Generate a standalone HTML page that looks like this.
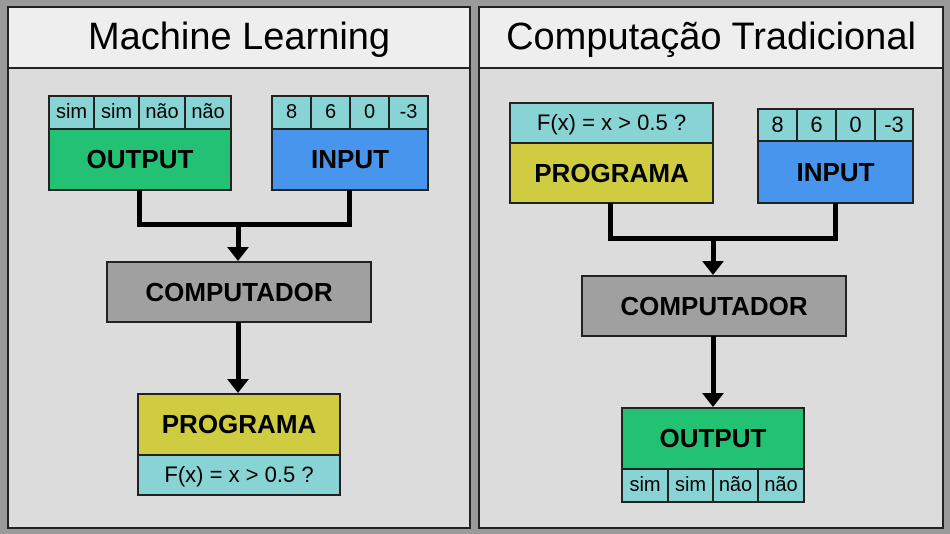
<!DOCTYPE html><html><head><style>
body{margin:0;width:950px;height:534px;background:#9a9a9a;position:relative;overflow:hidden;font-family:"Liberation Sans",sans-serif}
.a{position:absolute;box-sizing:border-box;border:2px solid #222;display:flex;align-items:center;justify-content:center}
.p{background:#dcdcdc}
.h{background:#eeeeee;font-size:38px;color:#000;border-width:2px}
.c{background:#88d3d3;font-size:20px}
.g{background:#22c173;font-weight:bold;font-size:26px}
.b{background:#4795ec;font-weight:bold;font-size:26px}
.y{background:#cfcc42;font-weight:bold;font-size:26px}
.k{background:#a0a0a0;font-weight:bold;font-size:26px}
.l{position:absolute;background:#000}
.t{position:absolute;width:0;height:0;border-left:11px solid transparent;border-right:11px solid transparent;border-top:14px solid #000}
</style></head><body>
<div class="a p" style="left:7px;top:6px;width:464px;height:523px"></div>
<div class="a h" style="left:7px;top:6px;width:464px;height:63px">Machine Learning</div>
<div class="a p" style="left:478px;top:6px;width:466px;height:523px"></div>
<div class="a h" style="left:478px;top:6px;width:466px;height:63px">Computação Tradicional</div>

<div class="a c" style="left:48px;top:95px;width:47px;height:35px">sim</div>
<div class="a c" style="left:93px;top:95px;width:47px;height:35px">sim</div>
<div class="a c" style="left:138px;top:95px;width:48px;height:35px">não</div>
<div class="a c" style="left:184px;top:95px;width:48px;height:35px">não</div>
<div class="a g" style="left:48px;top:128px;width:184px;height:63px">OUTPUT</div>
<div class="a c" style="left:271px;top:95px;width:41px;height:35px">8</div>
<div class="a c" style="left:310px;top:95px;width:41px;height:35px">6</div>
<div class="a c" style="left:349px;top:95px;width:41px;height:35px">0</div>
<div class="a c" style="left:388px;top:95px;width:41px;height:35px">-3</div>
<div class="a b" style="left:271px;top:128px;width:158px;height:63px">INPUT</div>
<div class="l" style="left:137px;top:190px;width:5px;height:37px"></div>
<div class="l" style="left:347px;top:190px;width:5px;height:37px"></div>
<div class="l" style="left:137px;top:222px;width:215px;height:5px"></div>
<div class="l" style="left:236px;top:222px;width:5px;height:28px"></div>
<div class="t" style="left:227px;top:247px"></div>
<div class="a k" style="left:106px;top:261px;width:266px;height:62px">COMPUTADOR</div>
<div class="l" style="left:236px;top:322px;width:5px;height:58px"></div>
<div class="t" style="left:227px;top:379px"></div>
<div class="a y" style="left:137px;top:393px;width:204px;height:63px">PROGRAMA</div>
<div class="a c" style="left:137px;top:454px;width:204px;height:42px;font-size:22px">F(x) = x &gt; 0.5 ?</div>

<div class="a c" style="left:509px;top:102px;width:205px;height:42px;font-size:22px">F(x) = x &gt; 0.5 ?</div>
<div class="a y" style="left:509px;top:142px;width:205px;height:62px">PROGRAMA</div>
<div class="a c" style="left:757px;top:108px;width:41px;height:34px;font-size:22px">8</div>
<div class="a c" style="left:796px;top:108px;width:41px;height:34px;font-size:22px">6</div>
<div class="a c" style="left:835px;top:108px;width:41px;height:34px;font-size:22px">0</div>
<div class="a c" style="left:874px;top:108px;width:40px;height:34px;font-size:22px">-3</div>
<div class="a b" style="left:757px;top:140px;width:157px;height:64px">INPUT</div>
<div class="l" style="left:608px;top:203px;width:5px;height:38px"></div>
<div class="l" style="left:833px;top:203px;width:5px;height:38px"></div>
<div class="l" style="left:608px;top:236px;width:230px;height:5px"></div>
<div class="l" style="left:711px;top:236px;width:5px;height:27px"></div>
<div class="t" style="left:702px;top:261px"></div>
<div class="a k" style="left:581px;top:275px;width:266px;height:62px">COMPUTADOR</div>
<div class="l" style="left:711px;top:336px;width:5px;height:58px"></div>
<div class="t" style="left:702px;top:393px"></div>
<div class="a g" style="left:621px;top:407px;width:184px;height:63px">OUTPUT</div>
<div class="a c" style="left:621px;top:468px;width:48px;height:35px">sim</div>
<div class="a c" style="left:667px;top:468px;width:47px;height:35px">sim</div>
<div class="a c" style="left:712px;top:468px;width:47px;height:35px">não</div>
<div class="a c" style="left:757px;top:468px;width:48px;height:35px">não</div>
</body></html>
